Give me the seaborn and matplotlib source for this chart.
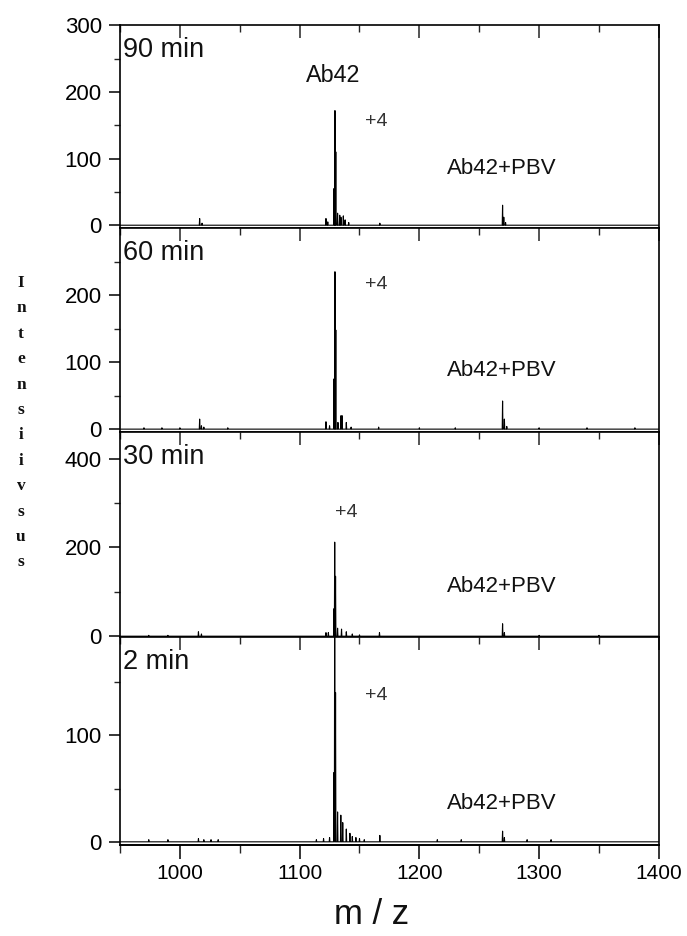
import matplotlib
matplotlib.use("Agg")
import matplotlib.pyplot as plt
import seaborn as sns
import pandas as pd
from matplotlib.ticker import FixedLocator

sns.set_theme(style="white")
plt.rcParams['font.family'] = ['Liberation Sans', 'DejaVu Sans']

# ---------------- data (peak lists) ----------------
panel_labels = ["90 min", "60 min", "30 min", "2 min"]

mz_90 = [1016.5, 1018.5, 1122.0, 1123.5, 1128.7, 1129.5, 1130.2, 1131.7, 1133.5, 1134.5,
         1136.5, 1138.0, 1141.0, 1167.0, 1269.5, 1270.5, 1272.0]
int_90 = [10, 3, 10, 5, 55, 172, 110, 18, 15, 12, 14, 8, 4, 3, 30, 12, 4]

mz_60 = [970.0, 985.0, 1000.0, 1016.5, 1018.0, 1020.0, 1040.0, 1122.0, 1125.0, 1128.7,
         1129.5, 1130.2, 1132.0, 1134.5, 1135.5, 1139.0, 1143.0, 1166.0, 1200.0, 1230.0,
         1269.5, 1271.0, 1273.0, 1300.0, 1340.0, 1380.0]
int_60 = [2, 2, 2, 15, 5, 3, 2, 11, 5, 75, 235, 148, 10, 20, 20, 10, 3, 3, 2, 2,
          42, 15, 4, 2, 2, 2]

mz_30 = [974.0, 990.0, 1015.5, 1018.0, 1122.0, 1124.0, 1128.7, 1129.3, 1130.0, 1131.7,
         1135.0, 1139.0, 1144.0, 1150.0, 1166.7, 1269.5, 1271.0, 1300.0, 1350.0]
int_30 = [2, 2, 10, 5, 8, 8, 62, 212, 135, 18, 16, 10, 5, 3, 8, 28, 8, 2, 2]

mz_2 = [974.0, 990.0, 1015.5, 1020.0, 1026.0, 1032.0, 1114.0, 1120.0, 1125.0, 1128.7,
        1129.3, 1130.0, 1131.7, 1134.4, 1136.0, 1139.0, 1142.0, 1144.0, 1147.0, 1150.0,
        1154.0, 1167.0, 1215.0, 1235.0, 1269.5, 1271.0, 1290.0, 1310.0]
int_2 = [2, 2, 3, 2, 2, 2, 2, 3, 4, 65, 260, 140, 28, 25, 18, 12, 8, 5, 4, 3,
         2, 6, 2, 2, 10, 4, 2, 2]

spectra = [(mz_90, int_90), (mz_60, int_60), (mz_30, int_30), (mz_2, int_2)]

y_limits = [(-4.5, 300), (-4.5, 300), (-2, 460), (-3, 192)]
y_major = [[0, 100, 200, 300], [0, 100, 200], [0, 200, 400], [0, 100]]
y_minor = [[50, 150, 250], [50, 150, 250], [100, 300], [50, 150]]

x_major = [1000, 1100, 1200, 1300, 1400]
x_minor = [950, 1050, 1150, 1250, 1350]

plus4_pos = [(1164, 155), (1164, 216), (1139, 279), (1164, 137)]
pbv_pos = [(1269, 85), (1269, 88), (1269, 112), (1269, 36)]
ylabel_letters = list("Intensiivsus")


def stick_frame(mz, inten, lo=950.0, hi=1400.0, w=0.3):
    xs, ys = [lo], [0.0]
    for m, v in sorted(zip(mz, inten)):
        xs += [m - w, m, m + w]
        ys += [0.0, v, 0.0]
    xs.append(hi)
    ys.append(0.0)
    return pd.DataFrame({"mz": xs, "intensity": ys})


fig = plt.figure(figsize=(6.87, 9.36), dpi=100)
axes = fig.subplots(4, 1, sharex=True,
                    gridspec_kw=dict(hspace=0, height_ratios=[203, 204, 205, 208]))
fig.subplots_adjust(left=0.1747, right=0.959, top=0.973, bottom=0.0972)

for i, ax in enumerate(axes):
    df = stick_frame(*spectra[i])
    sns.lineplot(data=df, x="mz", y="intensity", ax=ax, sort=False,
                 estimator=None, color="black", linewidth=0.8)
    ax.set_xlim(950, 1400)
    ax.set_ylim(*y_limits[i])
    ax.set_xlabel("")
    ax.set_ylabel("")
    ax.yaxis.set_major_locator(FixedLocator(y_major[i]))
    ax.yaxis.set_minor_locator(FixedLocator(y_minor[i]))
    ax.xaxis.set_major_locator(FixedLocator(x_major))
    ax.xaxis.set_minor_locator(FixedLocator(x_minor))
    for s in ax.spines.values():
        s.set_visible(True)
        s.set_color("black")
        s.set_linewidth(1.2)
    ax.tick_params(axis="y", which="major", direction="out", length=8, width=1.1,
                   left=True, right=False, labelsize=16, colors="black", pad=5)
    ax.tick_params(axis="y", which="minor", direction="out", length=4, width=1.0,
                   left=True, right=False)
    ax.tick_params(axis="x", which="major", direction="in",
                   length=9, width=1.1, top=True, bottom=False, labeltop=False,
                   labelbottom=False)
    ax.tick_params(axis="x", which="minor", direction="in", length=5, width=1.0,
                   top=True, bottom=False)
    ax.text(0.006, 0.88, panel_labels[i], transform=ax.transAxes, ha="left",
            va="center", fontsize=19.5, color="#111111")
    ax.text(plus4_pos[i][0], plus4_pos[i][1], "+4", ha="center", va="center",
            fontsize=14, color="#333333")
    ax.text(pbv_pos[i][0], pbv_pos[i][1], "Ab42+PBV", ha="center", va="center",
            fontsize=16, color="#111111")

axes[0].text(1128, 225, "Ab42", ha="center", va="center", fontsize=16.8,
             color="#111111")

# bottom axis of the lowest panel: outward ticks with labels
bx = axes[-1].secondary_xaxis("bottom")
bx.xaxis.set_major_locator(FixedLocator(x_major))
bx.xaxis.set_minor_locator(FixedLocator(x_minor))
bx.tick_params(which="major", direction="out", length=10, width=1.1,
               labelsize=15, colors="black", pad=4)
bx.tick_params(which="minor", direction="out", length=6, width=1.0)
bx.spines["bottom"].set_linewidth(1.2)
bx.spines["bottom"].set_color("black")

fig.text(372 / 687, 1 - 924 / 936, "m / z", ha="center", va="baseline",
         fontsize=25, color="#111111")

# vertical, letter-by-letter y label
top_y = 1 - 283 / 936
step = 25.4 / 936
for k, ch in enumerate(ylabel_letters):
    fig.text(21 / 687, top_y - k * step, ch, ha="center", va="center",
             fontsize=12.5, fontweight="bold",
             family=["Liberation Serif", "DejaVu Serif"], color="#111111")

fig.savefig("out.png", dpi=100)
